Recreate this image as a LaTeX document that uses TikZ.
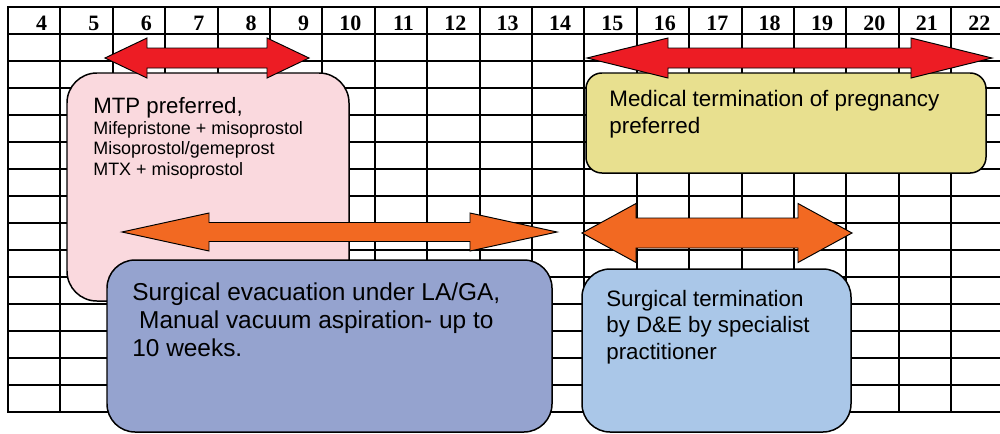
\documentclass[tikz,border=0pt]{standalone}
\usepackage{fontspec}
\setmainfont{Liberation Sans}
\newfontfamily\weekfont{Liberation Serif}
\definecolor{mtp_pink}{RGB}{250, 217, 222}
\definecolor{mtp_yellow}{RGB}{232, 224, 143}
\definecolor{sx_purple}{RGB}{149, 163, 207}
\definecolor{sx_blue}{RGB}{170, 199, 232}
\definecolor{range_red}{RGB}{237, 28, 36}
\definecolor{range_orange}{RGB}{242, 105, 34}
\usetikzlibrary{calc, fit}

% double-headed block arrow: fill, left tip, right tip, mid y, head length, head half, shaft half
\newcommand{\rangearrow}[7]{%
  \filldraw[fill=#1, draw=black, line width=0.55pt]
    (#2,#4) -- ++(#5,-#6) -- ++(0,#6-#7) -- (#3-#5,#4-#7) -- ++(0,#7-#6)
    -- (#3,#4) -- ++(-#5,#6) -- ++(0,#7-#6) -- (#2+#5,#4+#7) -- ++(0,#6-#7)
    -- cycle;}

\begin{document}
\begin{tikzpicture}[x=0.02cm, y=-0.02cm,
    gridline/.style={line width=1.1pt, black, line cap=rect},
    optionbox/.style={draw, line width=0.85pt, inner sep=0pt},
    boxtext/.style={anchor=base west, align=left, inner sep=0pt}]
  \useasboundingbox (0,0) rectangle (1000,433);
  \clip (0,0) rectangle (1000,433);

  % week grid
  \foreach \k in {0,...,19}
    \draw[gridline] (8+52.4*\k,7) -- (8+52.4*\k,412);
  \foreach \r in {0,...,15}
    \draw[gridline] (8,7+27*\r) -- (1004,7+27*\r);
  \foreach \wk [count=\k] in {4,...,22}
    \node[anchor=base east, inner sep=0pt,
          font=\weekfont\bfseries\fontsize{12.5}{14}\selectfont]
          (wk\wk) at (8+52.4*\k-13,30) {\wk};

  % medical, up to 9 weeks (base of a text block = its last line)
  \node[optionbox, fill=mtp_pink, rounded corners=17pt,
        fit={(67,73) (349,301)}] (mtp) {};
  \node[boxtext, font=\fontsize{12.65}{15}\selectfont]
        (mtptitle) at (93,113) {MTP preferred,};
  \node[boxtext, font=\fontsize{10.2}{11.6}\selectfont]
        (mtpdrugs) at (93,175)
        {Mifepristone + misoprostol\\Misoprostol/gemeprost\\MTX + misoprostol};
  \rangearrow{range_red}{105}{309}{58}{42}{20}{10}

  % medical, 15 weeks on
  \node[optionbox, fill=mtp_yellow, rounded corners=9pt,
        fit={(586,73) (986,173)}] (late) {};
  \node[boxtext, font=\fontsize{12.75}{15.3}\selectfont]
        (latetext) at (609,133) {Medical termination of pregnancy\\preferred};
  \rangearrow{range_red}{587}{992}{58}{81}{20}{10}

  % surgical ranges
  \rangearrow{range_orange}{122}{557}{232}{87}{19}{9.5}
  \rangearrow{range_orange}{582}{852}{233}{54}{29.5}{15}

  \node[optionbox, fill=sx_purple, rounded corners=16pt,
        fit={(107,260) (552,432)}] (evac) {};
  \node[boxtext, font=\fontsize{13.9}{15.9}\selectfont]
        (evactext) at (132,356)
        {Surgical evacuation under LA/GA,\\\hspace*{0.28em}Manual vacuum aspiration- up to\\10 weeks.};

  \node[optionbox, fill=sx_blue, rounded corners=16pt,
        fit={(582,269) (851,432)}] (dande) {};
  \node[boxtext, font=\fontsize{12.7}{15}\selectfont]
        (dandetext) at (606,359)
        {Surgical termination\\by D\&E by specialist\\practitioner};
\end{tikzpicture}
\end{document}
